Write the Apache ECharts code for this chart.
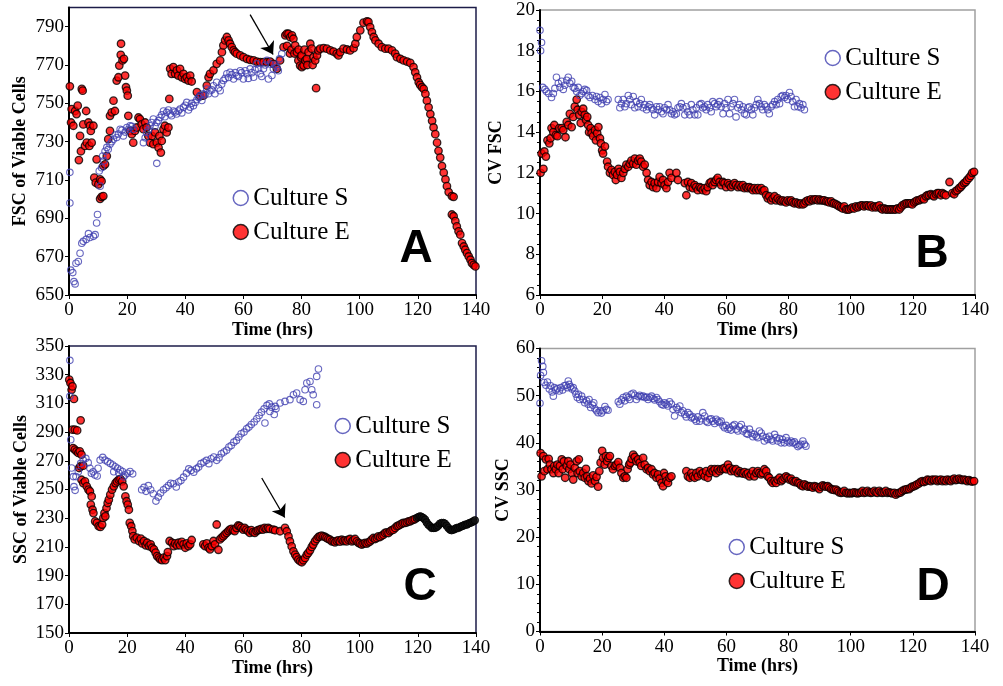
<!DOCTYPE html>
<html><head><meta charset="utf-8">
<script src="https://cdn.jsdelivr.net/npm/echarts@6/dist/echarts.min.js"></script>
<style>html,body{margin:0;padding:0;background:#fff}#c{width:1003px;height:686px}</style>
</head><body><div id="c"></div>
<script>
// ---- Panel A: FSC of viable cells ----
const A_S = [[0.3,714],[0.3,698],[0.6,663],[1.3,661.7],[1.7,657],[2.1,655.8],[2.4,666.6],[3.2,667.5],[3.8,671.8],[4.4,677],[4.9,678],[5.9,679],[6.7,682],[7.2,680],[8.4,680.6],[9,681.5],[9.5,687.6],[9.8,692],[10.4,714.7],[10.7,706.8],[11.2,716.4],[11.6,722.5],[12,720],[12.4,725],[13,727],[13.5,726],[14.1,728.7],[14.7,730],[15.3,731.3],[15.9,733.5],[16.4,732.2],[17,734],[17.6,736.5],[18.2,736],[18.7,733],[19.3,735],[19.9,737.4],[20.5,736.5],[21,738.3],[21.6,738],[22.1,736.5],[25.6,729.5],[26.2,732],[26.7,734.8],[27.3,736],[27.9,738.3],[28.4,740],[29,741.8],[29.6,738],[30.2,718.7],[30.2,740],[30.8,741],[31.3,742.6],[31.9,744],[32.5,746],[33,743],[33.6,745.3],[34.2,746.5],[34.8,744.4],[35.3,743.5],[35.9,746],[36.5,745.5],[37,744.4],[37.6,746],[38.2,747],[38.8,745],[39.4,748],[40,749],[40.5,750.5],[41.1,746.5],[41.7,748],[42.2,750],[42.8,748.8],[43.4,750.5],[44,752],[44.6,753],[45.1,754],[45.7,751.5],[46.2,755],[46.8,754.5],[47.4,757.5],[48,755],[48.5,756.6],[49.1,757],[49.7,759.2],[50.2,755],[50.8,761],[51.4,758],[52,756.6],[52.5,760],[53.1,761.9],[53.7,763],[54.3,765.4],[54.9,763.5],[55.4,766.2],[56,765],[56.6,762.7],[57.2,766],[57.7,764.5],[58.3,764],[58.9,767],[59.4,766],[60,762.7],[60.6,767],[61.2,765.4],[61.7,763],[62.3,768],[62.9,766],[63.5,763.6],[64,767.5],[64.6,770.6],[65.2,768],[65.8,765.4],[66.3,764],[66.9,768],[67.5,770],[68.1,772.4],[68.6,762.7],[69.2,770.5],[69.8,764.5],[70.3,768],[70.9,770],[71.5,768.9],[72,767],[72.4,773.2],[73.2,775.9]];
const A_E = [[0.3,758.9],[0.7,740],[0.9,747],[1.5,738.3],[2.1,746],[2.6,744.4],[3,748.8],[3.4,720.4],[3.8,733],[4.1,725],[4.4,757.5],[4.7,756.6],[4.9,739],[5.5,727.8],[5.9,746],[6.1,729.5],[6.7,740],[7,727.8],[7.2,738.3],[7.5,735.6],[7.8,729.5],[8.4,738.3],[8.7,711.2],[9.2,708.6],[9.5,720.8],[10.1,707.7],[10.7,710.3],[10.7,700.2],[11.2,701.2],[11.8,701.6],[11.2,709.4],[11.8,717.3],[12.4,718.2],[13,722.5],[13.5,731.3],[14.1,735.6],[14.1,743.5],[14.7,745.3],[15.3,751.4],[15.8,746],[16.4,761.9],[17,763.6],[17.3,769.7],[17.8,775.3],[17.9,781.1],[18.4,772.4],[18.9,773.2],[19.3,764.5],[19.6,758.4],[19.9,756.6],[20.2,754],[20.4,743.5],[21,735.6],[21.6,733.9],[22.1,729.5],[22.7,735.6],[23.3,737.4],[23.9,742.6],[24.4,741.8],[25,739],[25.6,736.5],[26.2,740],[26.7,737.4],[27.3,733],[27.9,729.5],[28.5,733],[29,728.7],[29.6,734.8],[30.2,729.5],[30.8,726.9],[31.1,733],[31.6,724.3],[31.9,730.4],[32.5,736.5],[33,738.3],[33.6,734.8],[34.2,737.4],[34.5,752.3],[34.8,768],[35.3,765.4],[35.9,768.9],[36.5,765.4],[37.1,767.2],[37.6,764.5],[38.2,768],[38.8,763.6],[39.4,765.4],[39.9,762.7],[40.5,763.6],[41.1,761.9],[41.7,764.5],[42.2,761.4],[44,755.8],[45.1,753.7],[46.2,754],[47.4,759.2],[48,763.6],[48.5,765.4],[49.7,767.2],[50.8,770.6],[52,772.4],[52.6,776.7],[53.1,780.2],[53.7,782.8],[54.3,784.6],[54.9,782.8],[55.4,781.1],[56,779.3],[56.6,777.6],[57.1,776.7],[57.7,775.9],[58.9,775],[60,774.1],[61.2,773.2],[62.3,772.7],[63.5,772.4],[64.6,771.8],[65.8,771.5],[66.9,771.5],[68.1,771.5],[69.2,771.8],[70.3,770.6],[71.5,768],[72.6,772.4],[73.8,779.3],[74.4,785.5],[74.9,786.3],[75,780],[75.5,786.3],[76,776],[76.1,784.6],[76.5,778],[76.7,785.5],[77.2,783.7],[77.5,776],[77.8,780.2],[78.4,776.7],[78.9,772.4],[79,778],[79.5,769.7],[79.8,774],[80,775],[80.1,768.9],[80.7,769.7],[81,778],[81.3,772.4],[81.8,773.2],[82,770],[82.4,776.7],[83,781.1],[83.5,778.5],[83.8,770],[84.1,774.1],[84.7,772.4],[85,757.9],[85.3,775],[85.8,777.6],[86.4,778.5],[87.6,778.8],[88.7,778.5],[89.9,777.6],[91,777],[92.1,775.9],[92.7,775],[93.3,776.7],[94.4,778.5],[95.6,778.1],[96.7,777.6],[97.9,778.8],[98.5,781.1],[99,784.6],[100.2,788.1],[101.3,792.1],[102.5,792.8],[103,792.5],[103.6,789.8],[104.2,787.2],[104.8,784.6],[105.4,782.8],[106.5,781.1],[107.6,779.3],[108.8,778.5],[109.9,778.5],[111.1,777.6],[112.2,775.9],[112.8,774.1],[114,773.2],[115.1,772.4],[116.3,771.8],[117.4,771.1],[118.5,768.9],[119.1,766.2],[119.7,763.6],[120.3,761],[120.8,759.6],[121.4,758.4],[122,757.5],[122.6,754.9],[123.1,751.4],[123.7,747.9],[124.3,744.4],[124.9,740.9],[125.4,737.4],[126,733.9],[126.6,729.5],[127.1,725.2],[127.7,721.7],[128.3,717.3],[128.9,713.8],[129.5,710.3],[130,706.8],[130.6,703.7],[131.7,701.6],[132.3,701.2],[131.7,692],[132.3,691.1],[132.9,688.5],[133.4,685.8],[134,683.2],[134.6,681.5],[135.2,677.1],[135.8,675.3],[136.3,673.6],[136.9,671.8],[137.5,670.1],[138.1,668.4],[138.6,666.6],[139.2,665.7],[139.8,664.9]];

// ---- Panel B: CV FSC ----
const B_S = [[0,19.0],[0.5,18.4],[0.2,18.0],[0.9,16.2],[1.6,16.1],[2.1,16.0],[2.8,15.9],[3.7,15.7],[4.3,15.9],[4.8,16.15],[5.3,16.7],[5.9,16.4],[6.4,16.2],[7,16.5],[7.5,16.1],[8,16.3],[8.6,16.55],[9.1,16.7],[9.6,16.4],[10.2,16.5],[10.7,16.2],[11.2,16.15],[11.8,16.0],[12.3,16.2],[12.8,15.8],[13.4,15.9],[13.9,16.0],[14.4,16.1],[15,16.05],[15.5,15.8],[16.1,15.7],[16.9,15.8],[17.7,15.6],[18.2,15.75],[18.7,15.5],[19.3,15.7],[19.8,15.4],[20.3,15.6],[20.9,15.85],[21.4,15.5],[21.9,15.6],[25.2,15.6],[25.7,15.2],[26.2,15.4],[26.8,15.6],[27.3,15.25],[27.8,15.4],[28.4,15.8],[28.9,15.6],[29.4,15.35],[30,15.75],[30.5,15.2],[31,15.5],[31.6,15.25],[32.1,15.4],[32.6,15.6],[33.2,15.2],[33.7,15.35],[34.3,15.1],[34.8,15.25],[35.3,15.35],[35.9,15.2],[36.4,15.1],[36.9,14.85],[37.5,15.25],[38,15.1],[38.5,15.25],[39.1,15.0],[39.6,14.9],[40.1,15.2],[40.7,15.1],[41.2,15.35],[41.7,15.1],[42.3,14.9],[42.8,15.0],[43.3,14.85],[43.9,14.9],[44.4,15.2],[45,15.25],[45.5,15.4],[46,15.2],[46.6,14.85],[47.1,15.25],[47.6,15.0],[48.2,14.85],[48.7,15.35],[49.2,15.1],[49.8,14.85],[50.3,15.2],[50.8,14.85],[51.4,15.35],[51.9,15.4],[52.4,15.2],[53,15.25],[53.5,15.1],[54,15.35],[54.6,15.2],[55.1,15.0],[55.6,15.5],[56.2,15.4],[56.7,15.25],[57.2,15.35],[57.8,15.5],[58.3,15.25],[58.9,14.9],[59.4,15.4],[59.9,15.2],[60.5,15.6],[61,14.9],[61.5,15.25],[62.1,15.4],[62.6,15.6],[63.1,14.75],[63.7,15.2],[64.2,15.35],[64.8,15.1],[65.3,15.25],[65.8,14.9],[66.4,14.85],[66.9,15.2],[67.4,15.25],[68,15.1],[68.5,14.85],[69,15.2],[69.6,15.35],[70.1,15.6],[70.6,15.4],[71.2,15.25],[71.7,15.1],[72.2,15.35],[72.8,15.25],[73.3,15.1],[73.8,14.9],[74.4,15.25],[74.9,15.35],[75.5,15.5],[76,15.35],[76.5,15.6],[77.1,15.4],[77.6,15.75],[78.1,15.8],[78.7,15.7],[79.2,15.8],[79.7,15.6],[80.3,15.95],[80.8,15.75],[81.3,15.5],[81.9,15.25],[82.4,15.6],[83,15.25],[83.5,15.4],[84,15.2],[84.6,15.35],[85.1,15.1]];
const B_E = [[0.2,12.0],[0.5,12.95],[1.1,12.2],[1.4,13.05],[1.9,12.8],[2.4,13.6],[3,13.45],[3.4,13.7],[3.7,14.2],[4.3,14.0],[4.6,14.35],[5.1,13.85],[5.6,13.8],[6.2,14.2],[7,14.2],[7.5,14.1],[8.2,13.75],[8.6,14.5],[9.1,14.35],[9.6,14.9],[10.2,14.25],[10.7,14.75],[11.2,15.25],[11.8,15.6],[12.1,15.1],[12.6,14.85],[13.1,14.45],[13.4,15.0],[13.9,15.15],[14.4,14.85],[14.8,14.6],[15.2,14.75],[15.5,14.35],[15.8,14.0],[16.3,14.2],[16.6,13.95],[17.1,13.8],[17.7,14.1],[18,13.6],[18.4,13.95],[18.8,14.25],[19.3,13.7],[19.6,13.45],[20,13.1],[20.3,12.95],[20.9,13.3],[21.6,12.55],[21.9,12.3],[22.5,12.0],[23,12.15],[23.5,11.9],[24.1,12.05],[24.4,11.65],[24.8,11.9],[25.3,12.2],[25.7,12.05],[26.2,11.75],[26.8,12.0],[27.3,12.2],[27.8,12.4],[28.4,12.3],[28.9,12.45],[29.4,12.6],[30,12.45],[30.5,12.7],[31,12.4],[31.6,12.6],[32.1,12.7],[32.6,12.55],[33.2,12.3],[33.7,12.4],[34.3,12.0],[34.8,11.65],[35.3,11.4],[35.9,11.55],[36.4,11.3],[36.9,11.5],[37.5,11.25],[38,11.55],[38.5,11.8],[39.1,11.5],[39.6,11.65],[40.1,11.4],[40.7,11.25],[41.2,11.55],[41.7,12.0],[42.3,11.75],[43.9,12.0],[44.4,11.65],[46.6,11.5],[47.1,10.9],[47.6,11.55],[48.2,11.3],[48.7,11.5],[49.2,11.25],[49.8,11.4],[50.3,11.3],[50.8,11.15],[51.4,11.3],[51.9,11.25],[52.4,11.15],[53,11.25],[53.5,11.1],[54,11.3],[54.6,11.5],[55.1,11.55],[55.6,11.4],[56.2,11.55],[56.7,11.65],[57.2,11.75],[57.8,11.55],[58.3,11.4],[58.9,11.55],[59.4,11.5],[59.9,11.3],[60.5,11.5],[61,11.4],[61.5,11.3],[62.1,11.4],[62.6,11.5],[63.1,11.4],[63.7,11.3],[64.2,11.4],[64.8,11.3],[65.3,11.4],[65.8,11.25],[66.4,11.3],[66.9,11.25],[67.4,11.3],[68,11.25],[68.5,11.15],[69,11.25],[69.6,11.15],[70.1,11.25],[70.6,11.15],[71.2,11.25],[71.7,11.1],[72.2,11.15],[72.8,10.9],[73.3,10.75],[73.8,10.85],[74.4,10.65],[74.9,10.75],[75.5,10.85],[76,10.65],[76.5,10.75],[77.1,10.65],[77.6,10.6],[78.1,10.65],[78.7,10.6],[79.2,10.55],[79.7,10.65],[80.3,10.6],[80.8,10.65],[81.3,10.55],[81.9,10.5],[82.4,10.55],[83,10.5],[83.5,10.45],[84,10.5],[84.6,10.45],[85.1,10.5],[85.6,10.6],[86.2,10.65],[86.7,10.6],[87.2,10.7],[87.8,10.65],[88.3,10.7],[88.8,10.7],[89.4,10.65],[89.9,10.7],[90.4,10.65],[91,10.65],[91.5,10.65],[92.1,10.6],[92.6,10.6],[93.1,10.55],[93.7,10.6],[94.2,10.5],[94.7,10.5],[95.3,10.45],[95.8,10.4],[96.3,10.35],[96.9,10.3],[97.4,10.25],[97.9,10.35],[98.5,10.2],[99,10.2],[99.5,10.2],[100.1,10.25],[100.6,10.3],[101.1,10.25],[101.7,10.35],[102.2,10.3],[102.7,10.35],[103.3,10.4],[103.8,10.4],[104.3,10.35],[104.9,10.4],[105.4,10.4],[105.9,10.35],[106.5,10.4],[107,10.3],[107.6,10.35],[108.1,10.3],[108.6,10.35],[109.2,10.4],[109.7,10.25],[110.2,10.2],[110.8,10.25],[111.3,10.2],[111.8,10.2],[112.4,10.2],[112.9,10.2],[113.4,10.2],[114,10.2],[114.5,10.2],[115,10.25],[115.6,10.2],[116.1,10.3],[116.6,10.4],[117.2,10.45],[117.7,10.5],[118.2,10.5],[118.8,10.5],[119.3,10.5],[119.8,10.45],[120.4,10.55],[120.9,10.6],[121.4,10.65],[122,10.65],[122.5,10.7],[123.1,10.75],[123.6,10.7],[124.2,10.85],[124.7,10.9],[125.2,10.9],[125.8,10.95],[126.3,10.9],[126.8,10.85],[127.4,10.95],[127.9,11.0],[128.4,11.0],[129,10.9],[129.5,11.0],[130,10.95],[130.6,10.9],[131.8,11.55],[132.7,11.0],[133.3,10.95],[133.8,11.1],[134.3,11.15],[134.9,11.25],[135.4,11.3],[135.9,11.4],[136.5,11.5],[137,11.55],[137.5,11.65],[138.1,11.75],[138.6,11.85],[139.1,12.0],[139.7,12.05]];

// ---- Panel C: SSC of viable cells ----
const C_S = [[0.3,340],[0.3,314.9],[0.6,284.7],[0.9,265],[1.5,259],[1.7,252],[2.1,249.4],[2.4,259],[3.2,262.4],[4,268.2],[4.9,270.5],[5.8,271.7],[6.6,268.7],[7.2,264.8],[7.7,261.3],[8.3,262.4],[8.9,260.1],[9.7,259.4],[10,264.8],[10.7,270.5],[11.6,272.4],[12.4,270.5],[13.3,269.4],[14.2,268.2],[15.1,267.1],[15.4,262.4],[15.9,265.9],[16.7,264.8],[17.1,261.7],[17.6,263.6],[18.4,262.5],[18.8,258.8],[19.3,260.1],[20.1,261.3],[21,262.5],[21.9,260.9],[25,249.8],[25.8,251.5],[26.5,248.7],[27.3,252.7],[28.1,249.8],[29,247],[29.9,241.9],[30.7,244.7],[31.5,247.5],[32.5,249.8],[33.4,251.2],[34.2,252.8],[35,254.4],[35.9,254],[36.9,251.7],[37.7,255.2],[38.5,256.3],[39.4,258.6],[40.4,261.4],[41.2,264.4],[42,263.3],[42.9,262.1],[43.8,264.4],[44.6,265.6],[45.4,268],[46.4,269.1],[47.3,270.3],[48.1,268],[48.9,271.4],[49.8,272.6],[50.8,270.3],[51.6,272.2],[52.4,274.9],[53.3,276.1],[54.2,277.3],[55,279.6],[55.8,280.7],[56.7,283],[57.6,284.2],[58.4,286.5],[59.2,288.8],[60.2,290],[61.1,292.3],[61.9,293.5],[62.7,295.3],[63.7,297],[64.6,299.3],[65.4,301.6],[66.2,303.9],[67.1,306.2],[67.4,296.3],[68.1,308.6],[68.9,309.7],[69.1,304.4],[69.7,307.4],[70.6,302.3],[70.9,307.9],[71.2,306.2],[72.6,310.3],[74.3,311.4],[76,312.6],[77.2,316],[78.3,317.2],[79.5,312.6],[80.6,311.4],[81.2,319.5],[81.8,324.2],[82.9,325.3],[83.5,319.5],[84,316],[85.2,309.1],[85.2,328.8],[85.8,334]];
const C_E = [[0.1,326.5],[0.5,324.2],[0.9,319.5],[1.2,321.8],[1.7,313.1],[1.2,291.7],[2,291.7],[2.8,291.2],[4,298.2],[1.4,278.9],[2,277.8],[2.6,276.6],[3.2,275.5],[3.7,276.6],[4.3,274.3],[3.5,265],[4,266.2],[4.9,266.6],[4.3,256.8],[4.9,254.5],[5.5,255.6],[6.1,252.2],[6.7,249.9],[7.2,248.7],[7.8,245.2],[7.5,239.4],[8.1,235.9],[8.4,233.6],[9,227.8],[9.6,226.7],[10.2,224.4],[10.8,223.9],[11.4,225.6],[11.8,230.2],[12.2,233.6],[12.5,231.3],[12.9,237.1],[13.3,240.6],[13.7,242.9],[14.2,246.4],[14.8,249.9],[15.4,252.2],[16,254.5],[16.5,255.6],[17.1,256.8],[17.7,257.3],[18.3,255.6],[18.8,252.2],[19.4,245.2],[19.8,241.8],[20.2,239.4],[20.6,235.9],[20.9,226.7],[21.4,224.4],[21.8,221],[22.1,217.5],[22.6,215.2],[23.3,216.4],[24.1,214.1],[24.7,215.7],[25.2,212.4],[25.8,214.1],[26.4,211.1],[26.9,212.9],[27.5,210.6],[28.1,211.8],[28.6,209.4],[29.2,208.3],[29.8,206],[30.3,203.6],[30.9,202.5],[31.4,201.3],[32,200.8],[32.6,202.5],[33.1,200.8],[33.7,203.6],[34,206.4],[34.6,214.1],[35.4,212.9],[36,210.6],[36.5,212.4],[37.1,211.1],[37.7,212.9],[38.2,211.1],[38.8,213.5],[39.4,211.8],[40,209.4],[40.5,212.4],[41.1,210.6],[41.7,211.8],[42.2,214.8],[46.2,211.8],[46.8,210.6],[47.4,212.4],[48,209.4],[48.5,208.3],[49.1,210.6],[49.7,214.1],[50.2,211.8],[50.8,225.6],[51.4,208],[51.9,215.2],[52.5,216.4],[53.1,217.5],[53.6,218.7],[54.2,219.8],[54.8,221],[55.3,222.1],[55.9,222.6],[56.5,221.7],[57,221],[57.6,223.3],[58.2,224.9],[58.7,224.4],[59.3,223.3],[59.9,222.1],[60.4,223.3],[61,222.1],[61.6,221],[62.2,219.8],[62.7,221.7],[63.3,220.3],[63.9,219.8],[64.5,221],[65,221.7],[65.6,222.1],[66.2,222.6],[66.7,222.1],[67.3,223.3],[67.9,222.6],[68.5,223.3],[69,222.6],[70.2,222.1],[70.9,221.6],[72.6,220.9],[74.3,223.2],[74.9,220.9],[75.5,217.3],[76,213.8],[76.6,210.3],[77.2,206.9],[77.8,204.6],[78.3,202.9],[78.9,201.1],[79.5,200],[80.1,199.3],[80.6,200.7],[81.2,202.3],[81.8,204.6],[82.3,205.8],[82.9,207.6],[83.5,210],[84,211.6],[84.6,213.9],[85.2,215.5],[85.8,216.9],[86.3,217.3],[86.9,217.8],[87.5,217.3],[88.1,216.9],[88.6,216.2],[89.2,215.5],[89.8,215],[90.4,213.9],[91,213.9],[91.5,213.2],[92.1,214.1],[92.7,214.6],[93.2,213.7],[93.8,215],[94.4,214.1],[95,214.6],[95.5,213.9],[96.1,215],[96.7,215.5],[97.3,213.9],[97.8,214.6],[98.4,215.5],[99,213.9],[99.6,212.8],[100.1,212.3],[100.7,211.6],[101.3,212.3],[101.9,212.8],[102.4,212.3],[103,213.2],[103.6,213.9],[104.1,215],[104.7,216.2],[105.3,215.5],[105.9,216.2],[106.4,217.3],[107,216.9],[107.6,217.8],[108.2,218.5],[108.7,219.7],[109.3,220.1],[109.9,219.7],[110.5,220.9],[111,221.6],[111.6,222],[112.2,223.2],[112.8,224.4],[113.3,224.8],[113.9,225.5],[114.5,226.2],[115,226.7],[115.6,226.7],[116.2,227.1],[116.8,227.8],[117.3,227.8],[117.9,228.5],[118.5,229],[119,229.4],[119.6,230.1],[120.2,230.8],[120.8,231.3],[121.3,230.8],[121.9,230.1],[122.5,229],[123,227.1],[123.6,225.5],[124.2,224.4],[124.8,223.2],[125.3,223.2],[125.9,223.2],[126.5,223.9],[127,224.8],[127.6,226.2],[128.2,226.7],[128.8,226.7],[129.3,226.2],[129.9,224.8],[130.5,223.2],[131.1,222],[131.6,221.6],[132.2,222],[132.8,222.5],[133.3,223.2],[133.9,223.2],[134.5,223.9],[135.1,224.4],[135.6,224.8],[136.2,225.5],[136.8,225.5],[137.3,226.2],[137.9,226.7],[138.5,227.1],[139.1,227.8],[139.6,228.5]];

// ---- Panel D: CV SSC ----
const D_S = [[0.2,54.3],[0,48.4],[0.5,57.4],[0.9,56.2],[1.1,54.9],[1.3,52.8],[1.9,52.2],[2.4,52.9],[3,51.4],[3.4,52.1],[3.9,50.8],[4.3,49.9],[4.6,51.7],[5.1,51.2],[5.6,51.5],[6.2,51],[6.7,51.7],[7.3,51.2],[7.8,52.1],[8.3,52.2],[8.8,51.7],[9.1,53.1],[9.4,52.4],[9.8,51.9],[10.3,51.4],[10.7,51.7],[11.2,51],[11.6,50.3],[12,49.6],[12.4,50.3],[12.8,49.2],[13.4,49.9],[13.9,49.2],[14.4,48.5],[15,48.9],[15.5,48.2],[15.8,49.2],[16.3,47.5],[16.9,48],[17.3,48.5],[17.7,47.2],[18.2,46.8],[18.7,46.4],[19.3,46.8],[19.8,46.3],[20.3,46.8],[20.9,47.7],[21.4,47.1],[21.9,46.9],[25.2,48.7],[25.7,48.2],[26.2,49.1],[26.8,49.6],[27.3,48.9],[27.8,49.9],[28.4,49.6],[28.9,49.2],[29.4,50.3],[30,50.5],[30.5,50.1],[31,49.2],[31.6,49.8],[32.1,50.1],[32.6,49.8],[33.2,49.9],[33.7,49.6],[34.3,49.7],[34.8,49.2],[35.3,49.6],[35.9,49.9],[36.4,49.4],[36.9,49.1],[37.5,49.6],[38,49.2],[38.5,48.7],[39.1,48.2],[39.6,48],[40.1,48.5],[40.7,48.2],[41.2,47.8],[41.7,48.7],[42.3,48.2],[42.8,47.1],[43.3,45.7],[43.9,47.5],[44.4,47.1],[45,47.8],[45.5,46.4],[46,46.8],[46.6,46],[47.1,45.5],[47.6,46.4],[48.2,46],[48.7,45.3],[49.2,45.5],[49.8,45],[50.3,44.6],[50.8,45.5],[51.4,44.6],[51.9,45.1],[52.4,46.4],[53,45.7],[53.5,44.6],[54,44.3],[54.6,45],[55.1,45.1],[55.6,44.6],[56.2,44.1],[56.7,45],[57.2,44.6],[57.8,44.3],[58.3,44.6],[58.9,43.6],[59.4,43.2],[59.9,43.7],[60.5,42.9],[61,43.2],[61.5,42.7],[62.1,43.6],[62.6,43.9],[63.1,42.9],[63.7,42.5],[64.2,43.4],[64.8,43.9],[65.3,42.5],[65.8,42.9],[66.4,42],[66.9,41.8],[67.4,42.9],[68,42.1],[68.5,41.3],[69,41.8],[69.6,41.4],[70.1,41.1],[70.6,42.5],[71.2,42.1],[71.7,41.4],[72.2,40.4],[72.8,41.1],[73.3,40.7],[73.8,41.4],[74.4,40.7],[74.9,40.4],[75.5,41.8],[76,41.1],[76.5,40.4],[77.1,40.9],[77.6,40],[78.1,40.7],[78.7,40],[79.2,41.1],[79.7,40.4],[80.3,40],[80.8,40.4],[81.3,40],[81.9,40.2],[82.4,39.7],[83,39.2],[83.5,39.5],[84,39.7],[84.6,40.4],[85.1,39.7],[85.6,39.3]];
const D_E = [[0.2,37.8],[0.5,32.9],[1.1,37.2],[1.4,34],[1.9,36.5],[2.4,34.4],[2.8,36.6],[3.2,35.4],[3.7,34.4],[4.3,33.6],[4.6,35.1],[5.1,34.4],[5.6,35.4],[6,33.6],[6.4,35.1],[7,36.5],[7.3,34.4],[7.7,36.1],[8.1,32.6],[8.6,35.1],[9.1,36.1],[9.4,34.4],[9.8,35.4],[10.3,33.6],[10.7,32.2],[11.2,34.7],[11.8,36.1],[12.1,33.6],[12.5,36.5],[12.8,34],[13.4,32.9],[13.9,33.6],[14.4,32.6],[14.8,34.5],[15.2,32.9],[15.6,31.9],[16.1,32.4],[16.6,31.4],[17.1,33.1],[17.7,31.9],[18.2,32.8],[18.7,30.7],[19.1,34],[19.5,35.8],[20,38.3],[20.3,36.8],[20.8,35.4],[21.2,37.2],[21.6,36.1],[22,36.8],[22.5,37.2],[23,35.1],[23.5,34.4],[24.1,35.1],[24.6,35.4],[25.2,35.9],[25.7,34.7],[26.2,33.6],[26.8,32.6],[27.3,32.9],[27.8,32.6],[28.2,34.4],[28.7,35.4],[29.1,35.8],[29.5,36.6],[30,37.5],[30.5,37],[31,36.1],[31.6,36.5],[32.1,35.8],[32.6,35.1],[33.2,36.8],[33.7,35.4],[34.3,34.4],[34.8,34.7],[35.3,34],[35.9,34.4],[36.4,33.3],[36.9,33.6],[37.5,32.6],[38,33.3],[38.5,32.4],[39.1,31.5],[39.6,30.8],[39.9,33.6],[40.4,32.9],[40.7,31.9],[41.2,31.5],[41.7,32.6],[42.3,32.9],[47.1,34],[47.6,32.9],[48.2,32.6],[48.7,33.6],[49.2,32.9],[49.8,32.6],[50.3,33.6],[50.8,32.9],[51.4,34],[51.9,33.3],[52.4,33.6],[53,32.9],[53.5,34],[54,32.6],[54.6,33.6],[55.1,34.4],[55.6,34],[56.2,34.4],[56.7,33.6],[57.2,34.4],[57.8,34],[58.3,34.4],[58.9,34.5],[59.4,34.7],[59.9,34.4],[60.5,35.4],[61,34.7],[61.5,34],[62.1,34.4],[62.6,34],[63.1,34.4],[63.7,33.6],[64.2,34],[64.8,33.6],[65.3,33.5],[65.8,33.8],[66.4,33.3],[66.9,33.6],[67.4,32.9],[68,33.3],[68.5,34],[69,32.9],[69.6,33.6],[70.1,34],[70.6,33.6],[71.2,33.3],[71.7,33.6],[72.2,34.4],[72.8,34],[73.3,32.9],[73.8,32.6],[74.4,31.9],[74.9,31.5],[75.5,31.9],[76,31.5],[76.5,32.2],[77.1,32.6],[77.6,31.9],[78.1,32.2],[78.7,32.6],[79.2,32.9],[79.7,32.6],[80.3,32.2],[80.8,32.4],[81.3,31.9],[81.9,31.7],[82.4,31.9],[83,31.5],[83.5,31.4],[84,31],[84.6,30.8],[85.1,31.2],[85.6,31],[86.2,30.7],[86.7,30.8],[87.2,30.7],[87.8,30.5],[88.3,30.8],[88.8,30.7],[89.4,30.5],[89.9,30.2],[90.4,30.7],[91,31],[91.5,30.8],[92.1,30.7],[92.6,30.8],[93.1,30.5],[93.7,30.2],[94.2,30.1],[94.7,30],[95.3,30.1],[95.8,29.8],[96.3,29.5],[96.9,29.4],[97.4,29.5],[97.9,29.8],[98.5,29.4],[99,29.3],[99.5,29.4],[100.1,29.3],[100.6,29.4],[101.1,29.5],[101.7,29.4],[102.2,29.3],[102.7,29.4],[103.3,29.5],[103.8,29.8],[104.3,29.4],[104.9,29.5],[105.4,29.8],[105.9,29.5],[106.5,29.4],[107,29.5],[107.6,29.8],[108.1,29.5],[108.6,29.4],[109.2,29.8],[109.7,29.5],[110.2,29.4],[110.8,29.5],[111.3,29.8],[111.8,29.4],[112.4,29.5],[112.9,29.4],[113.4,29.3],[114,29.4],[114.5,29],[115,29.3],[115.6,29.4],[116.1,29.5],[116.6,29.8],[117.2,30],[117.7,30.1],[118.2,30.2],[118.8,30.2],[119.3,30.5],[119.8,30.7],[120.4,30.8],[120.9,31],[121.4,31.2],[122,31.4],[122.5,31.7],[123.1,31.9],[123.6,31.7],[124.2,31.9],[124.7,32.2],[125.2,32.1],[125.8,31.9],[126.3,32.2],[126.8,32.1],[127.4,32.2],[127.9,31.9],[128.4,32.1],[129,32.2],[129.5,31.9],[130,32.1],[130.6,31.9],[131.1,32.2],[131.7,32.1],[132.2,31.9],[132.7,32.2],[133.3,32.4],[133.8,32.1],[134.3,32.2],[134.9,32.4],[135.4,32.2],[135.9,32.1],[136.5,32.2],[137,32.1],[137.5,31.9],[138.1,32.1],[138.6,31.9],[139.1,31.8],[139.7,31.9]];

const Y_TITLES = ['FSC of Viable Cells', 'CV FSC', 'SSC of Viable Cells', 'CV SSC'];
const X_TITLE = 'Time (hrs)';
const PANEL_LETTERS = ['A', 'B', 'C', 'D'];
const SERIES_NAMES = ['Culture S', 'Culture E'];

const SERIF = 'Liberation Serif';
const BLUE = '#4040b0';
const RED = '#ff0000';

const grids = [
  {left: 69, top: 7.5, width: 407, height: 287.5, show: true, borderColor: '#1c1c48', borderWidth: 1.5},
  {left: 540, top: 10, width: 435, height: 285, show: true, borderColor: '#a0a0a0', borderWidth: 1.5},
  {left: 69, top: 346, width: 407, height: 287, show: true, borderColor: '#1c1c48', borderWidth: 1.5},
  {left: 540, top: 348.5, width: 435, height: 283, show: true, borderColor: '#a0a0a0', borderWidth: 1.5}
];

const yCfg = [
  {min: 650, max: 800, interval: 20, minor: false, gap: 40},
  {min: 6, max: 20, interval: 2, minor: 4, gap: 35},
  {min: 150, max: 350, interval: 20, minor: false, gap: 39},
  {min: 0, max: 60, interval: 10, minor: 5, gap: 27}
];

const xAxes = grids.map((g, i) => ({
  type: 'value', gridIndex: i, min: 0, max: 140, interval: 20,
  axisLine: {show: true, onZero: false, lineStyle: {color: '#000', width: 2}},
  axisTick: {show: true, length: 4, lineStyle: {color: '#000', width: 1}},
  axisLabel: {fontFamily: SERIF, fontSize: 19, color: '#000', margin: 6},
  splitLine: {show: false},
  name: X_TITLE, nameLocation: 'middle', nameGap: 25,
  nameTextStyle: {fontFamily: SERIF, fontWeight: 'bold', fontSize: 18, color: '#000'}
}));

const yAxes = yCfg.map((c, i) => ({
  type: 'value', gridIndex: i, min: c.min, max: c.max, interval: c.interval,
  axisLine: {show: true, onZero: false, lineStyle: {color: '#000', width: 2}},
  axisTick: {show: true, length: 4, lineStyle: {color: '#000', width: 1}},
  minorTick: c.minor ? {show: true, splitNumber: c.minor, length: 3, lineStyle: {color: '#000', width: 1}} : {show: false},
  axisLabel: {fontFamily: SERIF, fontSize: 19, color: '#000', margin: 5, showMaxLabel: i !== 0},
  splitLine: {show: false},
  name: Y_TITLES[i], nameLocation: 'middle', nameGap: c.gap,
  nameTextStyle: {fontFamily: SERIF, fontWeight: 'bold', fontSize: 18, color: '#000'}
}));

const sStyle = {color: 'rgba(255,255,255,0)', borderColor: BLUE, borderWidth: 1.1};
const eStyle = {color: RED, borderColor: '#000', borderWidth: 1.3};

function scatter(name, data, idx, style, size, extra) {
  return Object.assign({
    type: 'scatter', name: name, data: data, xAxisIndex: idx, yAxisIndex: idx,
    symbol: 'circle', symbolSize: size, itemStyle: style, silent: true,
    emphasis: {disabled: true}
  }, extra || {});
}

function arrow(from, to) {
  return {
    silent: true, symbol: ['none', 'arrow'], symbolSize: 12,
    label: {show: false}, emphasis: {disabled: true},
    itemStyle: {color: '#000'},
    lineStyle: {color: '#000', width: 1.3, type: 'solid', opacity: 1},
    data: [[{coord: from, symbol: 'none'}, {coord: to, symbol: 'arrow', symbolSize: 12}]]
  };
}

const series = [
  scatter(SERIES_NAMES[1], A_E, 0, eStyle, 7.5, {markLine: arrow([62.3, 796.3], [70.2, 775.5])}),
  scatter(SERIES_NAMES[0], A_S, 0, sStyle, 6.5),
  scatter(SERIES_NAMES[1], B_E, 1, eStyle, 7.5),
  scatter(SERIES_NAMES[0], B_S, 1, sStyle, 6.5),
  scatter(SERIES_NAMES[1], C_E.filter(d => d[0] <= 119.5), 2, eStyle, 7.5, {markLine: arrow([66.3, 258], [74.2, 230.5])}),
  scatter(SERIES_NAMES[1], C_E.filter(d => d[0] > 119.5), 2, {color: '#111', borderColor: '#000', borderWidth: 1}, 7.5),
  scatter(SERIES_NAMES[0], C_S, 2, sStyle, 6.5),
  scatter(SERIES_NAMES[1], D_E, 3, eStyle, 7.5),
  scatter(SERIES_NAMES[0], D_S, 3, sStyle, 6.5)
];

const legendPos = [[227.5, 180.5], [819.5, 40.5], [329.5, 408.5], [723.5, 529.5]];
const legends = legendPos.map(p => ({
  left: p[0], top: p[1], orient: 'vertical', itemGap: 9,
  itemWidth: 15, itemHeight: 15, icon: 'circle', selectedMode: false,
  textStyle: {fontFamily: SERIF, fontSize: 25, color: '#000', lineHeight: 25},
  data: [
    {name: SERIES_NAMES[0], itemStyle: {color: '#fff', borderColor: BLUE, borderWidth: 1.5}},
    {name: SERIES_NAMES[1], itemStyle: {color: RED, borderColor: '#000', borderWidth: 1.5}}
  ]
}));

const letterPos = [[416, 249], [932, 254], [420, 587], [933, 587]];
const graphic = letterPos.map((p, i) => ({
  type: 'text', x: p[0], y: p[1], silent: true,
  style: {text: PANEL_LETTERS[i], font: 'bold 46px "Liberation Sans", Arial, sans-serif',
          fill: '#000', textAlign: 'center', textVerticalAlign: 'middle', align: 'center', verticalAlign: 'middle'}
}));

const chart = echarts.init(document.getElementById('c'), null, {renderer: 'canvas'});
chart.setOption({
  animation: false,
  backgroundColor: '#fff',
  grid: grids,
  xAxis: xAxes,
  yAxis: yAxes,
  legend: legends,
  series: series,
  graphic: graphic
});
</script>
</body></html>
